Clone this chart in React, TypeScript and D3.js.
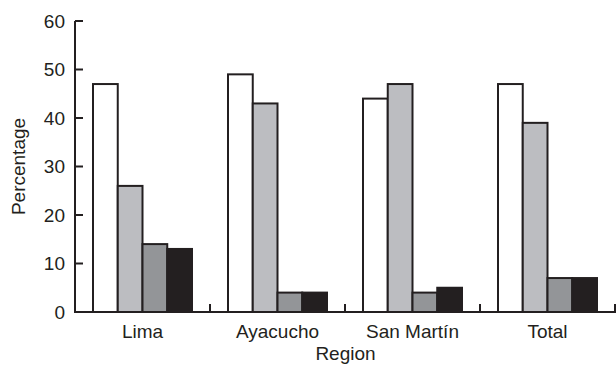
import React from 'react'
import * as d3 from 'd3'

// values
const regions = ['Lima', 'Ayacucho', 'San Martín', 'Total']
const seriesNames = ['s1', 's2', 's3', 's4']
const s1 = [47, 49, 44, 47]
const s2 = [26, 43, 47, 39]
const s3 = [14, 4, 4, 7]
const s4 = [13, 4, 5, 7]
const yTicks = [0, 10, 20, 30, 40, 50, 60]

const fills = ['#ffffff', '#bcbdc1', '#939598', '#231f20']
const ink = '#231f20'
const font = '"Liberation Sans", Arial, Helvetica, sans-serif'

export default function App() {
  const width = 616
  const height = 372
  const margin = { left: 75, right: 1, top: 21, bottom: 60 }
  const plotBottom = height - margin.bottom

  const x0 = d3.scaleBand<string>()
    .domain(regions)
    .range([margin.left, width - margin.right])
  const x1 = d3.scaleBand<string>()
    .domain(seriesNames)
    .range([18, x0.bandwidth() - 18])
  const y = d3.scaleLinear()
    .domain([0, 60])
    .range([plotBottom, margin.top])

  const allSeries = [s1, s2, s3, s4]

  return (
    <div style={{ position: 'absolute', left: 0, top: 0 }}>
      <svg width={width} height={height} style={{ display: 'block', background: '#fff' }}>
        {/* bars */}
        {regions.map((r, i) => (
          <g key={r} transform={'translate(' + x0(r) + ',0)'}>
            {allSeries.map((s, j) => (
              <rect
                key={j}
                x={x1(seriesNames[j])}
                y={y(s[i])}
                width={x1.bandwidth()}
                height={y(0) - y(s[i])}
                fill={fills[j]}
                stroke={ink}
                strokeWidth={2}
              />
            ))}
          </g>
        ))}

        {/* y axis */}
        <line x1={margin.left} x2={margin.left} y1={y(60)} y2={y(0)} stroke={ink} strokeWidth={2} />
        {yTicks.map(t => (
          <g key={t}>
            <line x1={margin.left} x2={margin.left + 8} y1={y(t)} y2={y(t)} stroke={ink} strokeWidth={2} />
            <text
              x={margin.left - 10}
              y={y(t)}
              textAnchor="end"
              dominantBaseline="central"
              fontFamily={font}
              fontSize={19}
              fill={ink}
            >{t}</text>
          </g>
        ))}

        {/* x axis */}
        <line x1={margin.left - 1} x2={width} y1={y(0)} y2={y(0)} stroke={ink} strokeWidth={2} />
        {regions.map(r => (
          <g key={r}>
            <line
              x1={(x0(r) as number) + x0.bandwidth()}
              x2={(x0(r) as number) + x0.bandwidth()}
              y1={y(0)}
              y2={y(0) - 8}
              stroke={ink}
              strokeWidth={2}
            />
            <text
              x={(x0(r) as number) + x0.bandwidth() / 2}
              y={plotBottom + 26}
              textAnchor="middle"
              fontFamily={font}
              fontSize={19}
              fill={ink}
            >{r}</text>
          </g>
        ))}

        {/* axis titles */}
        <text
          x={(margin.left + width) / 2}
          y={360}
          textAnchor="middle"
          fontFamily={font}
          fontSize={19}
          fill={ink}
        >Region</text>
        <text
          transform={'translate(25,' + (margin.top + plotBottom) / 2 + ') rotate(-90)'}
          textAnchor="middle"
          fontFamily={font}
          fontSize={19}
          fill={ink}
        >Percentage</text>
      </svg>
    </div>
  )
}
